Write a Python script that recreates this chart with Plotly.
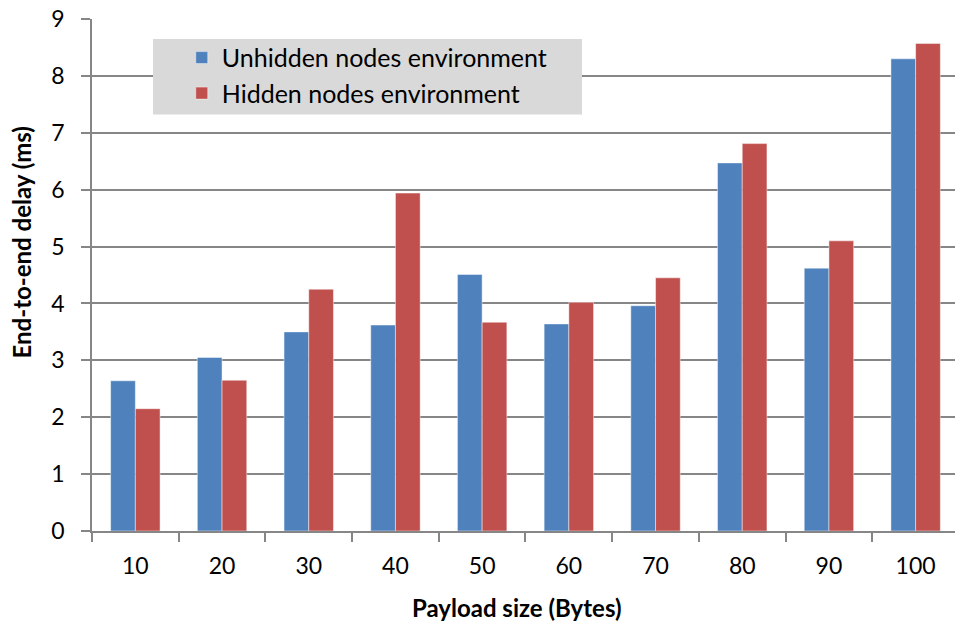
import plotly.graph_objects as go

# Payload sizes (bytes) and measured end-to-end delay (ms)
payload = ["10", "20", "30", "40", "50", "60", "70", "80", "90", "100"]
unhidden = [2.64, 3.05, 3.50, 3.62, 4.51, 3.64, 3.96, 6.47, 4.62, 8.30]
hidden = [2.15, 2.65, 4.25, 5.94, 3.67, 4.02, 4.45, 6.81, 5.10, 8.57]

series_names = ["Unhidden nodes environment", "Hidden nodes environment"]
series_colors = ["#4f81bd", "#c0504d"]

FONT = "Lato"
AXIS_GREY = "#868686"

fig = go.Figure()
for name, vals, col in zip(series_names, [unhidden, hidden], series_colors):
    fig.add_trace(go.Bar(
        x=payload, y=vals, name=name,
        marker=dict(color=col, line=dict(color="rgba(255,255,255,0.45)", width=1)),
    ))

fig.update_layout(
    width=955, height=625,
    margin=dict(l=92, r=0, t=19, b=94),
    paper_bgcolor="white", plot_bgcolor="white",
    font=dict(family=FONT, size=23, color="#000000"),
    barmode="group", bargap=0.43, bargroupgap=0,
    showlegend=True,
    legend=dict(
        x=0.104, y=0.969, xanchor="left", yanchor="top",
        bgcolor="rgba(0,0,0,0)", borderwidth=0,
        font=dict(family=FONT, size=25, color="#000000"),
        tracegroupgap=0,
    ),
    shapes=[dict(
        type="rect", xref="paper", yref="paper",
        x0=(153 - 92) / 863, x1=(582 - 92) / 863,
        y0=(531 - 114.5) / 512, y1=(531 - 39) / 512,
        fillcolor="#d9d9d9", line=dict(width=0), layer="above",
    )],
    annotations=[
        dict(text="<b>Payload size (Bytes)</b>", xref="paper", yref="paper",
             x=(516.5 - 92) / 863, y=-(607 - 531) / 512, xanchor="center", yanchor="middle",
             showarrow=False, font=dict(family=FONT, size=24)),
        dict(text="<b>End-to-end delay (ms)</b>", xref="paper", yref="paper",
             x=-(92 - 21) / 863, y=(531 - 242.5) / 512, xanchor="center", yanchor="middle",
             textangle=-90, showarrow=False, font=dict(family=FONT, size=24)),
    ],
)

fig.update_xaxes(
    type="category", range=[-0.5, 9.454],
    tickson="boundaries", ticks="outside", ticklen=9, tickwidth=1.5, tickcolor=AXIS_GREY,
    showline=True, linecolor=AXIS_GREY, linewidth=1.5,
    showgrid=False, ticklabelstandoff=14,
)
fig.update_yaxes(
    range=[0, 9], dtick=1, tick0=0,
    ticks="outside", ticklen=9, tickwidth=1.5, tickcolor=AXIS_GREY,
    showline=True, linecolor=AXIS_GREY, linewidth=1.5,
    showgrid=True, gridcolor=AXIS_GREY, gridwidth=1.6,
    zeroline=False, ticklabelstandoff=12,
)

fig.write_html("out.html")
